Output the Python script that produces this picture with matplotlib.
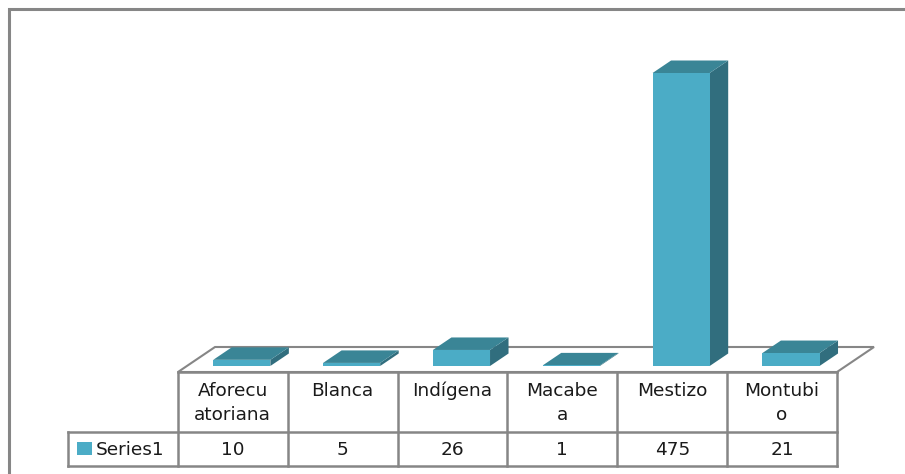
import matplotlib.pyplot as plt
from matplotlib.patches import Polygon, Rectangle

categories = ["Aforecuatoriana", "Blanca", "Indígena", "Macabea", "Mestizo", "Montubio"]
header_labels = ["Aforecu\natoriana", "Blanca", "Indígena", "Macabe\na", "Mestizo", "Montubi\no"]
values = [10, 5, 26, 1, 475, 21]
series_name = "Series1"

front_col = '#4BACC6'
top_col = '#3A8596'
side_col = '#316E7E'
grid_col = '#868686'
text_col = '#1a1a1a'

W, H = 905, 474
fig = plt.figure(figsize=(W / 100, H / 100), dpi=100)
plt.rcParams['font.family'] = ['DejaVu Sans']

# outer frame (only top and left visible)
fig.patches.append(Rectangle((9 / W, -0.1), 1.2, 1.1 - 9 / H, transform=fig.transFigure,
                             fill=False, edgecolor=grid_col, linewidth=2.2))

# bar area: floor front edge at y=372px, columns 178..837 px
ax = fig.add_axes([178 / W, (H - 372) / H, (837 - 178) / W, (372 - 9) / H])
px_per_unit = 293 / 475.0
ax.set_xlim(-0.5, 5.5)
ax.set_ylim(0, 363 / px_per_unit)
ax.axis('off')

# depth vector of the floor (in data units)
ddx = 37 / 109.8
ddy = 25 / px_per_unit
floor = Polygon([(-0.5, 0), (5.5, 0), (5.5 + ddx, ddy), (-0.5 + ddx, ddy)], closed=True,
                facecolor='white', edgecolor=grid_col, linewidth=1.5, clip_on=False, zorder=1)
ax.add_patch(floor)

w = 0.52
f0 = 0.24
fd = 0.5
for i, v in enumerate(values):
    x0 = i - w / 2 + f0 * ddx
    y0 = f0 * ddy
    bx, by = fd * ddx, fd * ddy
    ax.add_patch(Polygon([(x0 + w, y0), (x0 + w, y0 + v), (x0 + w + bx, y0 + v + by), (x0 + w + bx, y0 + by)],
                         closed=True, facecolor=side_col, edgecolor='none', zorder=3, clip_on=False))
    ax.add_patch(Polygon([(x0, y0 + v), (x0 + w, y0 + v), (x0 + w + bx, y0 + v + by), (x0 + bx, y0 + v + by)],
                         closed=True, facecolor=top_col, edgecolor='none', zorder=3, clip_on=False))
    ax.add_patch(Rectangle((x0, y0), w, v, facecolor=front_col, edgecolor='none', zorder=4, clip_on=False))

# data table: x in columns (-1 = legend column), y in pixels from table bottom
tax = fig.add_axes([68 / W, (H - 466) / H, (837 - 68) / W, (466 - 372) / H])
tax.set_xlim(-1, 6)
tax.set_ylim(0, 94)
tax.axis('off')
n = len(values)
lk = dict(color=grid_col, lw=1.8, clip_on=False, solid_capstyle='projecting')
tax.plot([0, n], [94, 94], **lk)
tax.plot([-1, n], [34, 34], **lk)
tax.plot([-1, n], [0, 0], **lk)
tax.plot([-1, -1], [0, 34], **lk)
for k in range(n + 1):
    tax.plot([k, k], [0, 94], **lk)
fs = 13.3
for i, (lab, v) in enumerate(zip(header_labels, values)):
    tax.text(i + 0.5, 84, lab, ha='center', va='top', fontsize=fs, color=text_col, linespacing=1.45)
    tax.text(i + 0.5, 16, str(v), ha='center', va='center', fontsize=fs, color=text_col)
tax.add_patch(Rectangle((-0.915, 11), 0.135, 13, facecolor=front_col, edgecolor='none'))
tax.text(-0.745, 16, series_name, ha='left', va='center', fontsize=fs, color=text_col)

fig.savefig("out.png", dpi=100)
